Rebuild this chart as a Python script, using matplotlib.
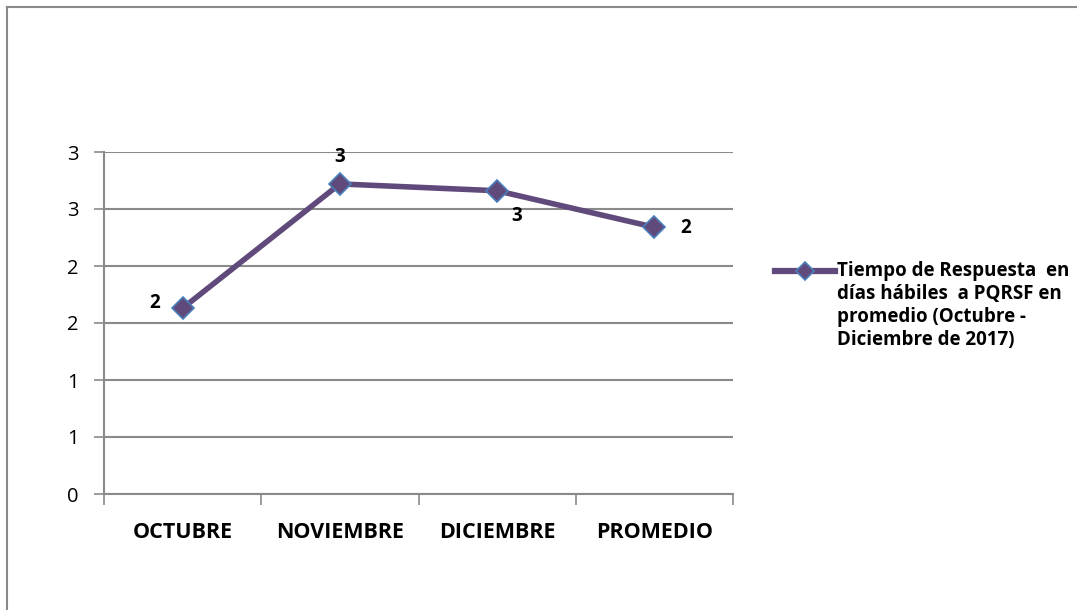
import matplotlib.pyplot as plt
from matplotlib.lines import Line2D

# PQRSF response time (working days), Oct-Dec 2017 plus the average
meses = ['OCTUBRE', 'NOVIEMBRE', 'DICIEMBRE', 'PROMEDIO']
dias = [1.63, 2.72, 2.66, 2.34]
y_ticks = [0, 0.5, 1, 1.5, 2, 2.5, 3]
y_tick_labels = ['0', '1', '1', '2', '2', '3', '3']
serie = 'Tiempo de Respuesta  en\ndías hábiles  a PQRSF en\npromedio (Octubre -\nDiciembre de 2017)'

# pixel offsets for each value label
label_offsets = [(-28, 5), (0, 27), (20, -25), (31, -1)]

plt.rcParams['font.family'] = ['Open Sans', 'DejaVu Sans']

PURPLE = '#604a7b'
EDGE = '#4a7ebb'
GRID = '#8a8a8a'

W, H = 1077, 610
fig = plt.figure(figsize=(W / 100, H / 100), dpi=100)
ax = fig.add_axes([104 / W, 1 - 494 / H, (733 - 104) / W, (494 - 152) / H])

x = list(range(len(meses)))
ax.plot(x, dias, color=PURPLE, lw=4, marker='D', ms=11,
        markerfacecolor=PURPLE, markeredgecolor=EDGE, markeredgewidth=1.2,
        zorder=3, clip_on=False)

for xi, v, (dx, dy) in zip(x, dias, label_offsets):
    ax.annotate(f'{v:.0f}', (xi, v), xytext=(dx, dy), textcoords='offset pixels',
                ha='center', va='center', fontsize=13.5, fontweight='bold')

ax.set_xlim(-0.5, len(meses) - 0.5)
ax.set_ylim(0, 3)
ax.set_yticks(y_ticks)
ax.set_yticklabels(y_tick_labels, fontsize=14.5)
ax.set_xticks(x)
ax.set_xticklabels(meses, fontsize=15.5, fontweight='bold')
ax.tick_params(axis='x', length=0, pad=20)
ax.set_xticks([i - 0.5 for i in range(len(meses) + 1)], minor=True)
ax.tick_params(axis='x', which='minor', length=8, width=1.2, color=GRID, direction='out')
ax.tick_params(axis='y', length=7, width=1.2, color=GRID, pad=11)

ax.grid(axis='y', color=GRID, lw=1.5)
ax.set_axisbelow(True)
for side in ['top', 'right']:
    ax.spines[side].set_visible(False)
for side in ['left', 'bottom']:
    ax.spines[side].set_color(GRID)
    ax.spines[side].set_linewidth(1.5)

# legend key and wrapped series name
y_leg = 1 - 271 / H
fig.add_artist(Line2D([775 / W, 805 / W, 835 / W], [y_leg] * 3, transform=fig.transFigure,
                      color=PURPLE, lw=4.5, marker='D', ms=9, markevery=[1],
                      markerfacecolor=PURPLE, markeredgecolor=EDGE, markeredgewidth=1.2))
fig.text(837 / W, 1 - 261 / H, serie, ha='left', va='top', fontsize=13.5,
         fontweight='bold', linespacing=1.2)

# chart frame
fig.add_artist(Line2D([7 / W, 1], [1 - 7 / H] * 2, transform=fig.transFigure, color=GRID, lw=1.5))
fig.add_artist(Line2D([7 / W] * 2, [0, 1 - 7 / H], transform=fig.transFigure, color=GRID, lw=1.5))

fig.savefig('out.png', dpi=100)
